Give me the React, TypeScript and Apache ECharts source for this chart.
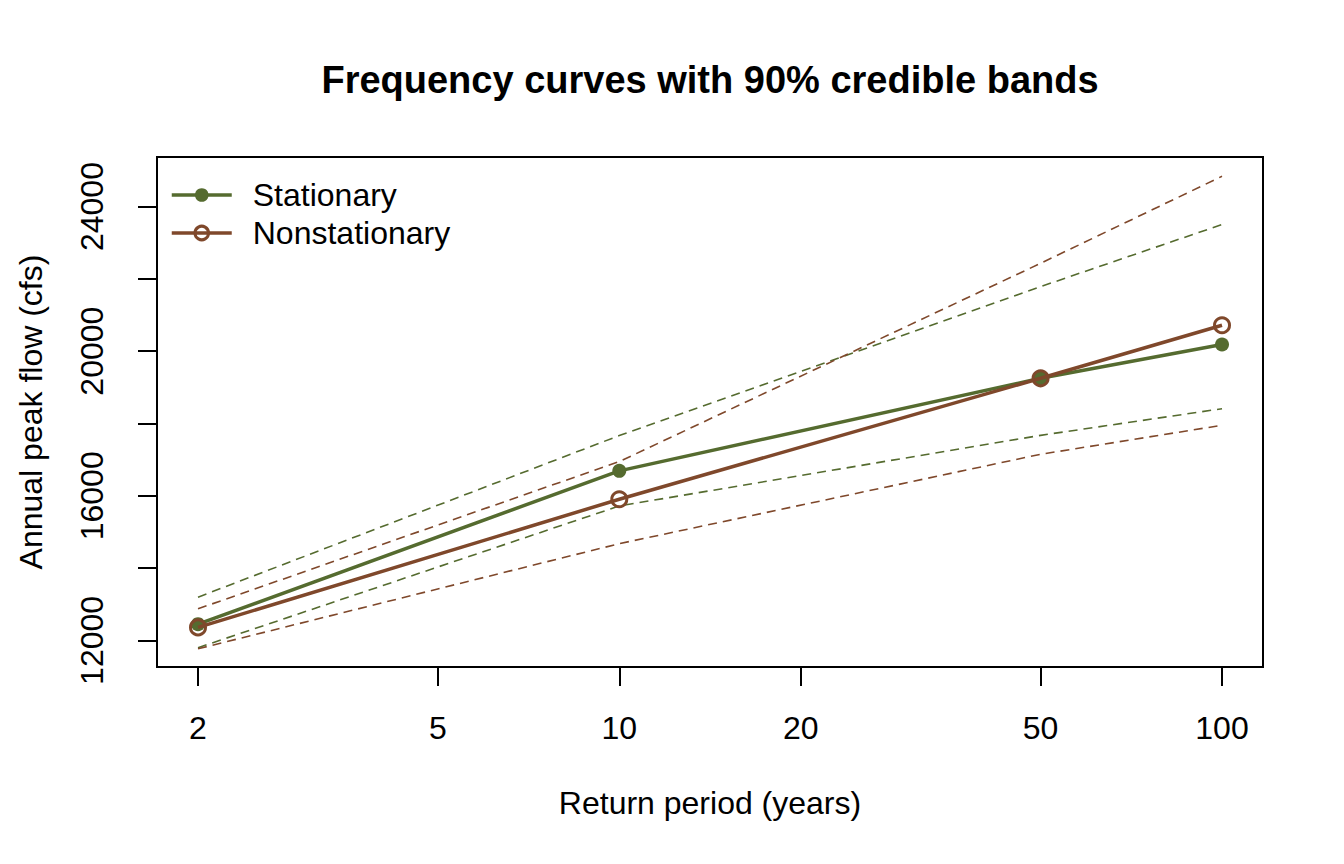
import { useEffect, useRef } from "react";
import * as echarts from "echarts";

// return periods (years) and flow quantiles (cfs)
const returnPeriods = [2, 10, 50, 100];
const stationary = [12450, 16690, 19250, 20185];
const nonstationary = [12360, 15905, 19250, 20717];
const stationaryUpper = [13195, 17666, 21785, 23503];
const stationaryLower = [11799, 15719, 17672, 18408];
const nonstationaryUpper = [12874, 16946, 22430, 24836];
const nonstationaryLower = [11768, 14676, 17148, 17950];

const xTicks = [2, 5, 10, 20, 50, 100];
const yTicks = [12000, 14000, 16000, 18000, 20000, 22000, 24000];
const yLabels = [12000, 16000, 20000, 24000];

const GREEN = "#556B2F";
const BROWN = "#7F482B";
const FONT = "'Liberation Sans', Arial, Helvetica, sans-serif";

const pairs = (ys: number[]) => returnPeriods.map((x, i) => [x, ys[i]]);

function band(name: string, ys: number[], color: string) {
  return {
    name,
    type: "line",
    data: pairs(ys),
    symbol: "none",
    lineStyle: { color, width: 1.6, type: [9, 6] },
    z: 2,
  };
}

export default function App() {
  const chartRef = useRef<HTMLDivElement>(null);

  useEffect(() => {
    if (!chartRef.current) return;
    const chart = echarts.init(chartRef.current, undefined, { renderer: "svg" });
    const option: any = {
      animation: false,
      backgroundColor: "#fff",
      textStyle: { fontFamily: FONT },
      grid: {
        left: 157,
        right: 81,
        top: 157,
        bottom: 197,
        show: true,
        borderColor: "#000",
        borderWidth: 2,
      },
      xAxis: {
        type: "log",
        logBase: 10,
        min: 1.71,
        max: 116.95,
        axisLine: { show: false },
        splitLine: { show: false },
        minorTick: { show: false },
        axisTick: {
          show: true,
          length: 19,
          lineStyle: { color: "#000", width: 2 },
          customValues: xTicks,
        },
        axisLabel: {
          color: "#000",
          fontSize: 32,
          fontFamily: FONT,
          margin: 45,
          customValues: xTicks,
          formatter: (v: number) => String(v),
        },
      },
      yAxis: {
        type: "value",
        min: 11265,
        max: 25370,
        axisLine: { show: false },
        splitLine: { show: false },
        axisTick: {
          show: true,
          length: 19,
          lineStyle: { color: "#000", width: 2 },
          customValues: yTicks,
        },
        axisLabel: {
          color: "#000",
          fontSize: 32,
          fontFamily: FONT,
          rotate: 90,
          margin: 49,
          customValues: yLabels,
          formatter: (v: number) => String(v),
        },
      },
      legend: {
        data: ["Stationary", "Nonstationary"],
        orient: "vertical",
        left: 165,
        top: 174,
        itemWidth: 60,
        itemHeight: 17,
        itemGap: 6,
        lineStyle: { width: 3.5 },
        itemStyle: { borderWidth: 3 },
        textStyle: {
          color: "#000",
          fontSize: 32,
          fontFamily: FONT,
          lineHeight: 32,
          padding: [0, 0, 0, 16],
        },
      },
      graphic: [
        {
          type: "text",
          x: 710,
          y: 80,
          style: {
            text: "Frequency curves with 90% credible bands",
            fontSize: 38,
            fontWeight: "bold",
            fontFamily: FONT,
            fill: "#000",
            textAlign: "center",
            textVerticalAlign: "middle",
          },
        },
        {
          type: "text",
          x: 710,
          y: 803,
          style: {
            text: "Return period (years)",
            fontSize: 32,
            fontFamily: FONT,
            fill: "#000",
            textAlign: "center",
            textVerticalAlign: "middle",
          },
        },
        {
          type: "text",
          x: 31,
          y: 412,
          rotation: Math.PI / 2,
          style: {
            text: "Annual peak flow (cfs)",
            fontSize: 32,
            fontFamily: FONT,
            fill: "#000",
            textAlign: "center",
            textVerticalAlign: "middle",
          },
        },
      ],
      series: [
        band("Stationary upper", stationaryUpper, GREEN),
        band("Stationary lower", stationaryLower, GREEN),
        band("Nonstationary upper", nonstationaryUpper, BROWN),
        band("Nonstationary lower", nonstationaryLower, BROWN),
        {
          name: "Stationary",
          type: "line",
          data: pairs(stationary),
          symbol: "circle",
          symbolSize: 14,
          itemStyle: { color: GREEN },
          lineStyle: { color: GREEN, width: 3.5 },
          z: 3,
        },
        {
          name: "Nonstationary",
          type: "line",
          data: pairs(nonstationary),
          symbol: "circle",
          symbolSize: 15,
          itemStyle: { color: "rgba(0,0,0,0)", borderColor: BROWN, borderWidth: 3 },
          lineStyle: { color: BROWN, width: 3.5 },
          z: 4,
        },
      ],
    };
    chart.setOption(option);
    return () => chart.dispose();
  }, []);

  return (
    <div
      ref={chartRef}
      style={{ position: "absolute", left: 0, top: 0, width: 1344, height: 864 }}
    />
  );
}
